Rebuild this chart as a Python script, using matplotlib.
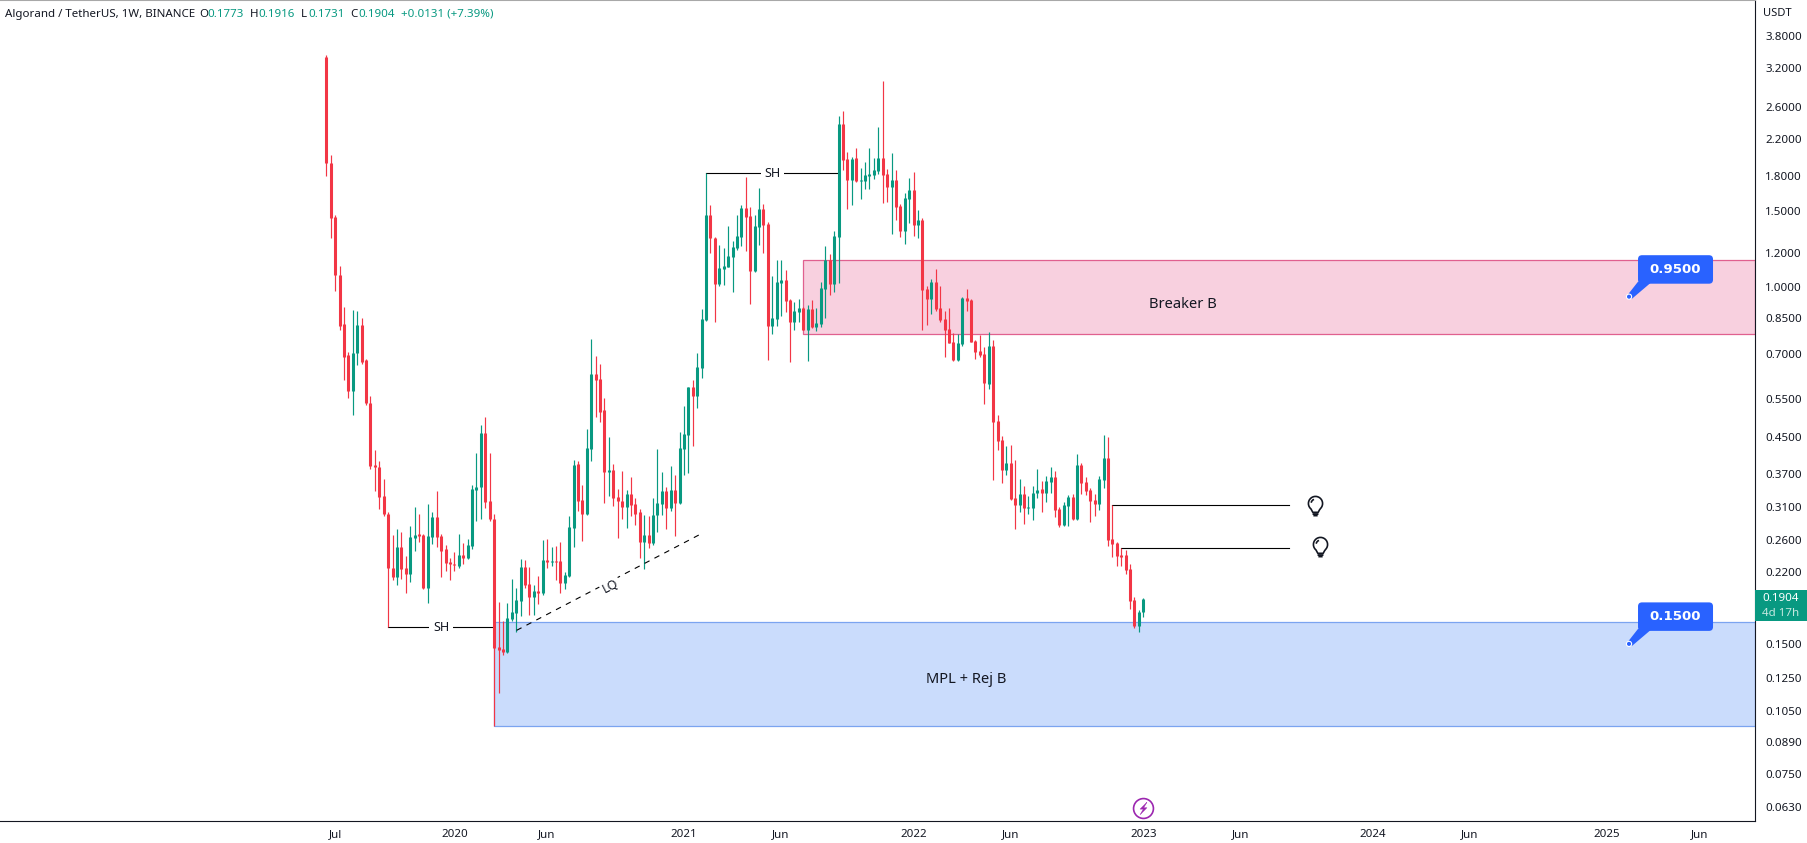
import numpy as np
import pandas as pd
import matplotlib
matplotlib.use('Agg')
from matplotlib import pyplot as plt
import matplotlib.dates as mdates
from matplotlib.patches import Rectangle, FancyBboxPatch, Polygon, Circle
from matplotlib.path import Path
from matplotlib.transforms import IdentityTransform

plt.rcParams['font.family'] = ['Noto Sans', 'DejaVu Sans']

# weekly bars, 2019-06-17 .. 2023-01-02
opens = [3.40, 1.93, 1.45, 1.064, .82, .697, .574, .705, .818, .679,
         .541, .389, .385, .329, .30, .224, .214, .2516, .224, .218,
         .2637, .2695, .2678, .2015, .2651, .2945, .2667, .2489, .2315, .229,
         .2267, .2401, .2365, .2526, .340, .3445, .461, .3206, .2912, .1474,
         .1458, .1437, .171, .1764, .188, .2255, .2066, .192, .199, .1971,
         .234, .2318, .233, .233, .2078, .2155, .2778, .3906, .322, .2985,
         .423, .6285, .6132, .5196, .3742, .3786, .327, .3203, .3101, .3324,
         .3152, .3024, .2583, .268, .2569, .2977, .3152, .3386, .3085, .3402,
         .3168, .423, .4558, .588, .561, .6512, .84, 1.468, 1.30, 1.017,
         1.101, 1.113, 1.174, 1.231, 1.306, 1.523, 1.459, 1.089, 1.377, 1.515,
         1.395, .8124, .8444, 1.0225, 1.039, .934, .8312, .876, .8947, .7965,
         .8904, .8076, .822, .9905, 1.155, 1.017, 1.306, 2.38, 1.976, 1.767,
         1.987, 1.758, 1.758, 1.806, 1.81, 1.853, 1.987, 1.825, 1.702, 1.767,
         1.539, 1.3465, 1.597, 1.676, 1.392, 1.429, .9905, .939, 1.028, .8947,
         .8444, .80, .747, .679, .7391, .945, .934, .7512, .7126, .70,
         .597, .731, .4904, .444, .3786, .3927, .3254, .3135, .3324, .3085,
         .3085, .3342, .3421, .3342, .3552, .3648, .3069, .2824, .3118, .327,
         .2916, .3885, .3552, .3402, .322, .3152, .359, .4034, .2624, .2569,
         .2401, .2401, .2228, .189, .1647, .1773]
highs = [3.43, 2.02, 1.464, 1.116, .898, .708, .887, .88, .849, .682,
         .561, .421, .397, .36, .302, .267, .2765, .2725, .239, .281,
         .3105, .2986, .269, .315, .302, .3386, .2695, .2543, .2364, .2443,
         .2695, .2571, .262, .349, .414, .481, .502, .414, .30, .187,
         .169, .186, .212, .2022, .2352, .234, .2255, .2054, .2155, .261,
         .2624, .2512, .2525, .2583, .22, .2962, .399, .3969, .3496, .4713,
         .759, .6933, .6647, .5549, .451, .3906, .3421, .3757, .3402, .3648,
         .3254, .3069, .2977, .2962, .3254, .423, .3742, .346, .3865, .3686,
         .4628, .5316, .5887, .61, .7048, .8893, 1.832, 1.547, 1.306, 1.2515,
         1.231, 1.384, 1.278, 1.468, 1.547, 1.795, 1.531, 1.468, 1.693, 1.555,
         1.414, 1.061, 1.155, 1.155, 1.095, .939, .924, .939, .897, .9095,
         .934, .8947, 1.028, 1.245, 1.1925, 1.3465, 2.483, 2.55, 2.052, 1.998,
         2.097, 1.885, 1.945, 2.097, 1.987, 2.343, 2.991, 1.873, 2.041, 1.863,
         1.555, 1.649, 1.786, 1.844, 1.506, 1.444, 1.006, 1.045, 1.101, 1.006,
         .881, .8947, .7816, .7795, .9485, .9905, .939, .755, .7735, .7262,
         .788, .755, .507, .4534, .4305, .4324, .399, .3609, .3478, .329,
         .3478, .3805, .3571, .3666, .3845, .3766, .3101, .3186, .3306, .3324,
         .412, .3927, .3648, .343, .3324, .3666, .4558, .451, .3131, .2583,
         .2501, .2472, .229, .192, .18, .1916]
lows = [1.80, 1.30, .978, .797, .611, .555, .507, .659, .664, .533,
        .381, .339, .308, .296, .164, .211, .2056, .212, .197, .208,
        .2453, .2583, .201, .186, .2555, .2516, .2143, .2211, .211, .2211,
        .224, .229, .236, .2489, .2888, .2912, .3083, .2888, .097, .1154,
        .1415, .143, .169, .1597, .1736, .2022, .1746, .1746, .185, .195,
        .224, .2267, .211, .1971, .2013, .2145, .2512, .3035, .2596, .2969,
        .3969, .5005, .4878, .3168, .329, .3118, .2637, .2916, .2778, .2962,
        .2824, .2365, .2228, .2503, .2542, .2725, .2977, .2763, .3035, .2666,
        .3152, .3686, .3723, .4305, .5249, .6165, .835, 1.199, .831, 1.006,
        1.012, 1.11, .9745, 1.218, 1.245, 1.212, .914, 1.083, 1.2515, 1.199,
        .679, .7795, .8124, .8584, .876, .672, .7965, .8312, .795, .6754,
        .8033, .7924, .8076, .8489, .9595, .9745, 1.0225, 1.863, 1.515, 1.547,
        1.748, 1.597, 1.685, 1.685, 1.776, 1.825, 1.564, 1.572, 1.327, 1.429,
        1.306, 1.258, 1.407, 1.312, 1.299, .7965, .818, .867, .881, .8312,
        .6906, .741, .6754, .6754, .7313, .881, .745, .6826, .6906, .5374,
        .581, .359, .421, .3533, .3686, .323, .2763, .3024, .2839, .2985,
        .29, .3254, .3024, .3186, .3352, .2945, .2794, .2809, .2809, .29,
        .29, .3324, .3306, .2869, .2962, .3052, .3443, .2525, .2378, .2267,
        .2267, .2176, .181, .163, .16, .1731]
closes = [1.93, 1.447, 1.064, .815, .69, .576, .705, .818, .673, .539,
          .387, .385, .328, .30, .2246, .214, .2516, .2236, .218, .265,
          .2678, .2667, .2022, .2667, .2945, .2651, .2453, .2304, .229, .2278,
          .2401, .2365, .2543, .3421, .346, .461, .3186, .2906, .1468, .145,
          .1437, .1718, .1775, .189, .2255, .2054, .192, .199, .1971, .234,
          .2315, .233, .2318, .2078, .2165, .2794, .3885, .3203, .2985, .4253,
          .6285, .61, .5151, .3742, .3786, .3254, .3203, .3101, .3324, .3135,
          .2985, .2583, .268, .2569, .2969, .3168, .3386, .3085, .3402, .3168,
          .4253, .4581, .588, .561, .6546, .8444, 1.468, 1.299, 1.017, 1.107,
          1.119, 1.18, 1.2385, 1.312, 1.523, 1.4515, 1.089, 1.384, 1.515, 1.392,
          .8124, .8489, 1.028, 1.039, .929, .8312, .88, .8947, .7965, .8904,
          .8076, .8267, .9958, 1.155, 1.017, 1.312, 2.38, 1.966, 1.767, 1.976,
          1.758, 1.767, 1.815, 1.825, 1.863, 1.987, 1.815, 1.702, 1.767, 1.531,
          1.3465, 1.606, 1.676, 1.392, 1.429, .985, .939, 1.028, .8904, .84,
          .7965, .7431, .679, .7431, .945, .929, .747, .7085, .697, .599,
          .731, .4878, .4417, .3786, .3927, .3237, .3135, .3324, .3085, .3101,
          .3352, .3402, .3342, .3571, .3648, .3052, .2824, .3135, .327, .2916,
          .3885, .3533, .3386, .3203, .3152, .3609, .4034, .261, .2555, .2391,
          .2378, .222, .188, .1647, .1775, .1904]

price_ticks = [3.8, 3.2, 2.6, 2.2, 1.8, 1.5, 1.2, 1.0, .85, .7, .55, .45, .37,
               .31, .26, .22, .15, .125, .105, .089, .075, .063]
date_ticks = ['2019-07-01', '2020-01-06', '2020-06-01', '2021-01-04', '2021-06-07',
              '2022-01-03', '2022-06-06', '2023-01-02', '2023-06-05', '2024-01-01',
              '2024-06-03', '2025-01-06', '2025-06-02']
date_labels = ['Jul', '2020', 'Jun', '2021', 'Jun', '2022', 'Jun', '2023', 'Jun',
               '2024', 'Jun', '2025', 'Jun']

pink_zone = [0.78, 1.153]
blue_zone = [0.0969, 0.1688]

RED = '#F23645'
GREEN = '#089981'
INK = '#131722'
BLUE = '#2962FF'

dates = pd.date_range('2019-06-17', periods=len(opens), freq='7D')
x = mdates.date2num(dates)
o, h, l, c = map(np.array, (opens, highs, lows, closes))
colors = [GREEN if cc >= oo else RED for oo, cc in zip(o, c)]


def num(day):
    return mdates.date2num(pd.Timestamp(day))


fig = plt.figure(figsize=(18.08, 8.43), dpi=100)
W, H = 1808.0, 843.0
ax = fig.add_axes([0, (H - 821) / H, 1755 / W, 821 / H])
ax.set_yscale('log')
ax.set_xlim(x[0] - 517.2, x[0] + 2264.7)
ax.set_ylim(0.0585, 4.60)

# zones
x_end = ax.get_xlim()[1]
ax.add_patch(Rectangle((x[108], pink_zone[0]), x_end - x[108], pink_zone[1] - pink_zone[0],
                       fc='#F8D0DF', ec='#E0608F', lw=0.9, zorder=1))
ax.add_patch(Rectangle((x[38], blue_zone[0]), x_end - x[38], blue_zone[1] - blue_zone[0],
                       fc='#CADCFC', ec='#7BA4F0', lw=0.9, zorder=1))

# candles
ax.vlines(x, l, h, colors=colors, lw=0.85, zorder=3)
ax.vlines(x, np.minimum(o, c), np.maximum(o, c), colors=colors, lw=2.2, zorder=4,
          capstyle='butt')

# drawings
ax.plot([x[14], x[38]], [.164, .164], color='black', lw=0.8, zorder=2)
ax.plot([x[86], x[116]], [1.832, 1.832], color='black', lw=0.8, zorder=2)
for xm, yv in [((x[14] + x[38]) / 2, .164), ((x[86] + x[116]) / 2, 1.832)]:
    ax.text(xm, yv, 'SH', ha='center', va='center', fontsize=9, color=INK, zorder=5,
            bbox=dict(fc='white', ec='none', pad=2.6))

ax.plot([x[0] + 43.1 * 7, x[0] + 84.85 * 7], [.1612, .2692], color='black', lw=0.8,
        dashes=(5, 5), zorder=5)
ax.text(x[0] + 64.4 * 7, .2035, 'LQ', ha='center', va='center', rotation=27.5,
        rotation_mode='anchor', fontsize=9, color=INK, zorder=6,
        bbox=dict(fc='white', ec='none', pad=1.5))

ax.plot([x[178], num('2023-08-21')], [.3131, .3131], color='black', lw=0.8, zorder=2)
ax.plot([x[180], num('2023-08-21')], [.2501, .2501], color='black', lw=0.8, zorder=2)

# lightbulb marker
head = Path.arc(-50, 230)
bulb_v = list(head.vertices) + [(-.38, -1.25), (.38, -1.25), (.64, -.77)]
bulb_c = list(head.codes) + [Path.LINETO] * 3
shine = Path.arc(110, 170)
bulb = Path.make_compound_path(
    Path(bulb_v, bulb_c),
    Path([(-.42, -1.5), (.42, -1.5)]),
    Path([(-.3, -1.72), (.3, -1.72)]),
    Path(shine.vertices * .62, shine.codes))
ax.plot([num('2023-10-02')], [.3168], marker=bulb, ms=17.5, mfc='none', mec='#131722',
        mew=1.2, ls='none', zorder=5)
ax.plot([num('2023-10-09')], [.2555], marker=bulb, ms=17.5, mfc='none', mec='#131722',
        mew=1.2, ls='none', zorder=5)

ax.text(num('2023-01-02') + 63, .913, 'Breaker B', ha='center', va='center',
        fontsize=10.6, color=INK, zorder=5)
ax.text(num('2022-01-03') + 83, .1238, 'MPL + Rej B', ha='center', va='center',
        fontsize=10.6, color=INK, zorder=5)

# alert icon
tr = ax.get_xaxis_transform()
ax.plot([x[-1]], [0.0158], marker='o', ms=14.3, mfc='white', mec='#9C27B0', mew=1.2,
        transform=tr, zorder=5, clip_on=False)
bolt = Path([(.55, 1), (-.55, -.1), (-.02, -.1), (-.55, -1), (.55, .12), (.02, .12), (.55, 1)])
ax.plot([x[-1]], [0.0158], marker=bolt, ms=9, mfc='#9C27B0', mec='#9C27B0', mew=0.3,
        transform=tr, zorder=6, clip_on=False)

# axes
ax.spines['left'].set_visible(False)
ax.spines['right'].set_color('#131722')
ax.spines['bottom'].set_color('#131722')
ax.spines['right'].set_linewidth(0.8)
ax.spines['bottom'].set_linewidth(0.8)
ax.spines['top'].set_color('#A8A8A8')
ax.spines['top'].set_linewidth(1.5)

ax.yaxis.tick_right()
ax.set_yticks(price_ticks)
ax.set_yticklabels(['%.4f' % v for v in price_ticks])
ax.minorticks_off()
ax.tick_params(axis='y', length=0, pad=7.5, labelsize=8.3, labelcolor=INK)
ax.set_xticks([num(d) for d in date_ticks])
ax.set_xticklabels(date_labels)
ax.tick_params(axis='x', length=0, pad=5.5, labelsize=8.3, labelcolor=INK)

# callouts, sized in pixels from their tip
ident = IdentityTransform()
for val, label in [(.95, '0.9500'), (.15, '0.1500')]:
    tx, ty = ax.transData.transform((num('2025-02-10'), val))
    ax.add_patch(FancyBboxPatch((tx + 9, ty + 13), 75, 28.5,
                                boxstyle='round,pad=0,rounding_size=4', fc=BLUE, ec='none',
                                transform=ident, zorder=7, clip_on=False))
    ax.add_patch(Polygon([(tx - 2, ty + 1), (tx + 3, ty - 2), (tx + 23, ty + 15), (tx + 9, ty + 15)],
                         fc=BLUE, ec='none', transform=ident, zorder=7))
    ax.add_patch(Circle((tx, ty), 2.6, fc=BLUE, ec='white', lw=0.8, transform=ident, zorder=8))
    ax.text(tx + 46.5, ty + 27, label, transform=ident, ha='center', va='center', color='white',
            fontsize=9.6, fontweight='bold', family='DejaVu Sans', zorder=9)

# last price badge
fig.add_artist(Rectangle((1755 / W, (H - 621) / H), 52 / W, 31 / H, fc=GREEN, ec='none',
                         transform=fig.transFigure))
fig.text(1781 / W, (H - 598.5) / H, '0.1904', ha='center', va='center', color='white', fontsize=8.3)
fig.text(1781 / W, (H - 613) / H, '4d 17h', ha='center', va='center', color='#C5E8E0', fontsize=8.3)
fig.text(1777 / W, (H - 14) / H, 'USDT', ha='center', va='center', color=INK, fontsize=8.0)

# header
hdr = [(5, 'Algorand / TetherUS, 1W, BINANCE', INK), (199, 'O', INK), (207, '0.1773', GREEN),
       (250, 'H', INK), (258, '0.1916', GREEN), (301, 'L', INK), (308, '0.1731', GREEN),
       (350, 'C', INK), (358, '0.1904', GREEN), (401, '+0.0131 (+7.39%)', GREEN)]
for px, txt, col in hdr:
    fig.text(px / W, (H - 14.5) / H, txt, ha='left', va='center', color=col, fontsize=8.3)

fig.savefig('out.png', dpi=100, facecolor='white')
